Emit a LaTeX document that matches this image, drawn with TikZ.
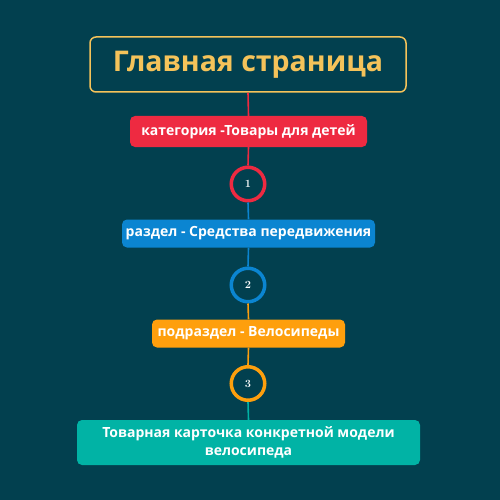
\documentclass[tikz,border=0pt]{standalone}
\usepackage{fontspec}
\setsansfont{Open Sans}
\definecolor{bg}{HTML}{02404F}
\definecolor{cyel}{HTML}{F5C35A}
\definecolor{cred}{HTML}{EE2A41}
\definecolor{cblue}{HTML}{0B85D1}
\definecolor{corange}{HTML}{FE9F0D}
\definecolor{cteal}{HTML}{01B3A5}
\tikzset{
  px/.style={x=1pt,y=-1pt},
  pill/.style={rounded corners=5pt, text=white, font=\sffamily\bfseries\fontsize{14}{16}\selectfont, inner sep=0pt, align=center},
  numc/.style={circle, draw=#1, line width=3.5pt, fill=bg, minimum size=33.5pt, inner sep=0pt, text=white, font=\rmfamily\bfseries\fontsize{11}{12}\selectfont},
  conn/.style={draw=#1, line width=1.6pt}
}
\begin{document}
\begin{tikzpicture}[px]
\fill[bg] (0,0) rectangle (500,500);
\useasboundingbox (0,0) rectangle (500,500);
\node[draw=cyel, line width=1.5pt, rounded corners=6pt, minimum width=316pt, minimum height=55pt, inner sep=0pt, text=cyel, font=\sffamily\bfseries\fontsize{28.5}{30}\selectfont] (title) at (248,64.5) {Главная страница};
\node[pill, fill=cred, minimum width=237pt, minimum height=31pt] (cat) at (248.5,131.5) {категория -Товары для детей};
\node[numc=cred] (n1) at (248,184) {1};
\node[pill, fill=cblue, minimum width=253pt, minimum height=28pt] (sec) at (248.5,233.5) {раздел - Средства передвижения};
\node[numc=cblue] (n2) at (248,285) {2};
\node[pill, fill=corange, minimum width=193pt, minimum height=28pt] (sub) at (248.5,333.5) {подраздел - Велосипеды};
\node[numc=corange] (n3) at (248,383.5) {3};
\node[pill, fill=cteal, minimum width=343pt, minimum height=45pt, font=\sffamily\bfseries\fontsize{14}{18}\selectfont] (card) at (248.5,442.5) {Товарная карточка конкретной модели\\велосипеда};
\draw[conn=cred] (title.south) -- (cat.north);
\draw[conn=cred] (cat.south) -- (n1.north);
\draw[conn=cblue] (n1.south) -- (sec.north);
\draw[conn=cblue] (sec.south) -- (n2.north);
\draw[conn=corange] (n2.south) -- (sub.north);
\draw[conn=corange] (sub.south) -- (n3.north);
\draw[conn=cteal] (n3.south) -- (card.north);
\end{tikzpicture}
\end{document}
